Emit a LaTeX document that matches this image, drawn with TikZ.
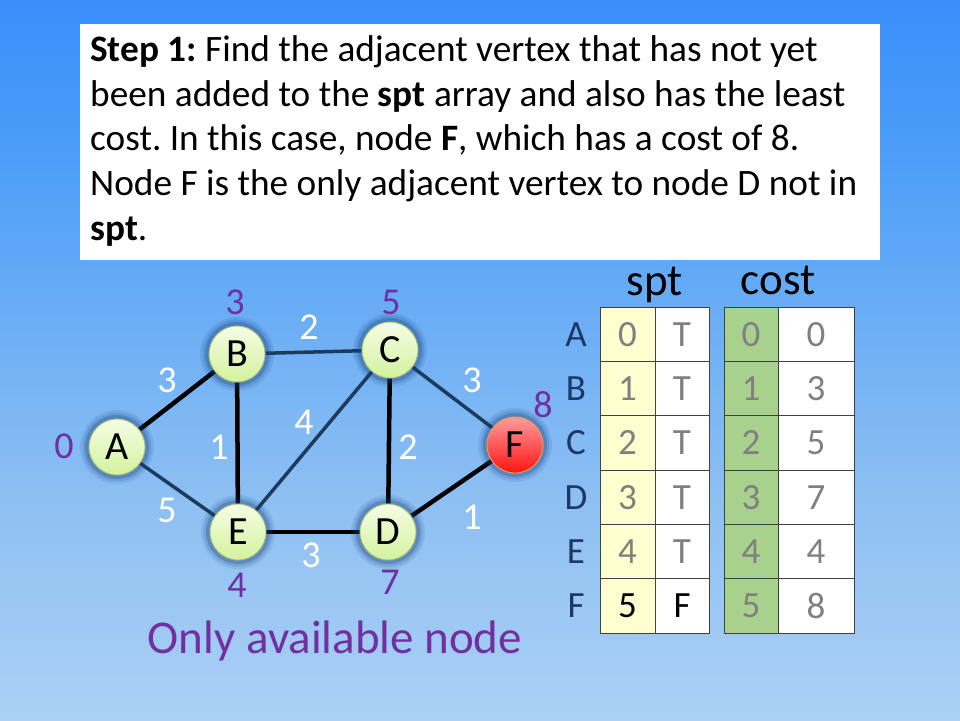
\documentclass[tikz,border=0pt]{standalone}
\usepackage{fontspec}
\setmainfont{Carlito}
\frenchspacing
\pgfdeclarelayer{bg}
\pgfdeclarelayer{edges}
\pgfsetlayers{bg,edges,main}

\definecolor{bgtop}{HTML}{0E6CFF}
\definecolor{bgupper}{HTML}{4D9EF8}
\definecolor{bglower}{HTML}{8EC0F2}
\definecolor{bgbot}{HTML}{DDEBFA}
\definecolor{vtop}{HTML}{F5FDE4}
\definecolor{vbot}{HTML}{D3F29E}
\definecolor{vrim}{HTML}{A9C06C}
\definecolor{htop}{HTML}{FF9C9C}
\definecolor{hbot}{HTML}{FF1414}
\definecolor{hrim}{HTML}{F0A050}
\definecolor{glowc}{HTML}{163F7E}
\definecolor{navyedge}{HTML}{1D3B5F}
\definecolor{distc}{HTML}{7030A0}
\definecolor{rowc}{HTML}{1C3768}
\definecolor{cellc}{HTML}{808080}
\definecolor{sptfill}{HTML}{FEFECF}
\definecolor{costfill}{HTML}{A9D18E}
\definecolor{gridc}{HTML}{404040}

\pgfdeclareverticalshading{slidebg}{100bp}{color(0bp)=(bgbot); color(40bp)=(bglower); color(64bp)=(bgupper); color(100bp)=(bgtop)}

\tikzset{
  vertex/.style={circle, minimum size=56pt, inner sep=0pt, draw=vrim, line width=0.9pt,
    top color=vtop, bottom color=vbot, font=\fontsize{40}{40}\selectfont,
    preaction={draw=glowc, line width=18pt, draw opacity=0.1},
    preaction={draw=glowc, line width=13pt, draw opacity=0.15},
    preaction={draw=glowc, line width=8pt, draw opacity=0.25}},
  hotvertex/.style={vertex, draw=hrim, top color=htop, bottom color=hbot},
  heavy/.style={draw=black, line width=4.5pt},
  light/.style={draw=navyedge, line width=3.5pt},
  weight/.style={text=white, font=\fontsize{38}{38}\selectfont, inner sep=0pt},
  dist/.style={text=distc, font=\fontsize{38}{38}\selectfont, inner sep=0pt},
  stepline/.style={anchor=base west, inner sep=0pt, font=\fontsize{37.3}{37.3}\selectfont},
  rowlabel/.style={text=rowc, font=\fontsize{37}{37}\selectfont, inner sep=0pt},
  cell/.style={text=cellc, font=\fontsize{37}{37}\selectfont, inner sep=0pt},
  header/.style={anchor=base, font=\fontsize{45}{45}\selectfont, inner sep=0pt},
  gridline/.style={draw=gridc, line width=0.9pt},
}

\begin{document}
\begin{tikzpicture}[x=1pt, y=-1pt]
\useasboundingbox (0,0) rectangle (960,720);

% slide background and instruction panel
\begin{pgfonlayer}{bg}
  \shade[shading=slidebg] (0,0) rectangle (960,720);
\end{pgfonlayer}
\fill[white] (80,24) rectangle (880,260);
\node[stepline] (l1) at (90,61.7) {\textbf{Step 1:} Find the adjacent vertex that has not yet};
\node[stepline] (l2) at (90,106.3) {been added to the \textbf{spt} array and also has the least};
\node[stepline] (l3) at (90,150.9) {cost. In this case, node \textbf{F}, which has a cost of 8.};
\node[stepline] (l4) at (90,195.5) {Node F is the only adjacent vertex to node D not in};
\node[stepline] (l5) at (90,240.1) {\textbf{spt}.};

% graph vertices
\node[vertex] (A) at (117,447) {A};
\node[vertex] (B) at (237,354) {B};
\node[vertex] (C) at (390,350) {C};
\node[vertex] (D) at (388,532) {D};
\node[vertex] (E) at (238,532) {E};
\node[hotvertex] (F) at (515,445) {F};

% graph edges
\begin{pgfonlayer}{edges}
  \draw[heavy] (A) -- (B);
  \draw[light] (A) -- (E);
  \draw[light] (B) -- (C);
  \draw[heavy] (B) -- (E);
  \draw[light] (C) -- (E);
  \draw[heavy] (C) -- (D);
  \draw[light] (C) -- (F);
  \draw[heavy] (E) -- (D);
  \draw[heavy] (D) -- (F);
\end{pgfonlayer}

% edge weights
\node[weight] (wAB) at (167,380) {3};
\node[weight] (wAE) at (167,510) {5};
\node[weight] (wBC) at (309,327) {2};
\node[weight] (wBE) at (219,447) {1};
\node[weight] (wCE) at (304,422) {4};
\node[weight] (wCD) at (408,447) {2};
\node[weight] (wCF) at (472,380) {3};
\node[weight] (wED) at (311,555) {3};
\node[weight] (wDF) at (472,517) {1};

% tentative distances
\node[dist] (dA) at (64,446) {0};
\node[dist] (dB) at (235,302) {3};
\node[dist] (dC) at (391,302) {5};
\node[dist] (dD) at (390,582) {7};
\node[dist] (dE) at (237,585) {4};
\node[dist] (dF) at (543,405) {8};

\node[text=distc, anchor=base, font=\fontsize{47}{47}\selectfont, inner sep=0pt] (note) at (335,653) {Only available node};

% spt and cost tables
\node[header] (hspt) at (655,295) {spt};
\node[header] (hcost) at (778,294) {cost};

\fill[sptfill] (600,307) rectangle (655,633);
\fill[white] (655,307) rectangle (709,633);
\fill[costfill] (724,307) rectangle (778,633);
\fill[white] (778,307) rectangle (854,633);

\foreach \lab/\idx/\flag/\cost [count=\i from 0] in {A/0/T/0, B/1/T/3, C/2/T/5, D/3/T/7, E/4/T/4} {
  \pgfmathsetmacro\yc{334.2+54.33*\i}
  \node[rowlabel] (row\lab) at (576,\yc) {\lab};
  \node[cell] (idx\lab) at (627.5,\yc) {\idx};
  \node[cell] (flag\lab) at (682,\yc) {\flag};
  \node[cell] (ord\lab) at (751,\yc) {\idx};
  \node[cell] (cost\lab) at (816,\yc) {\cost};
}
\node[rowlabel] (rowF) at (576,605.9) {F};
\node[cell, text=black] (idxF) at (627.5,605.9) {5};
\node[cell, text=black] (flagF) at (682,605.9) {F};
\node[cell] (ordF) at (751,605.9) {5};
\node[cell] (costF) at (816,605.9) {8};

\foreach \xa/\xm/\xb in {600/655/709, 724/778/854} {
  \draw[gridline] (\xa,307) rectangle (\xb,633);
  \draw[gridline] (\xm,307) -- (\xm,633);
  \foreach \k in {1,...,5} {
    \draw[gridline] (\xa,307+54.33*\k) -- (\xb,307+54.33*\k);
  }
}
\end{tikzpicture}
\end{document}
